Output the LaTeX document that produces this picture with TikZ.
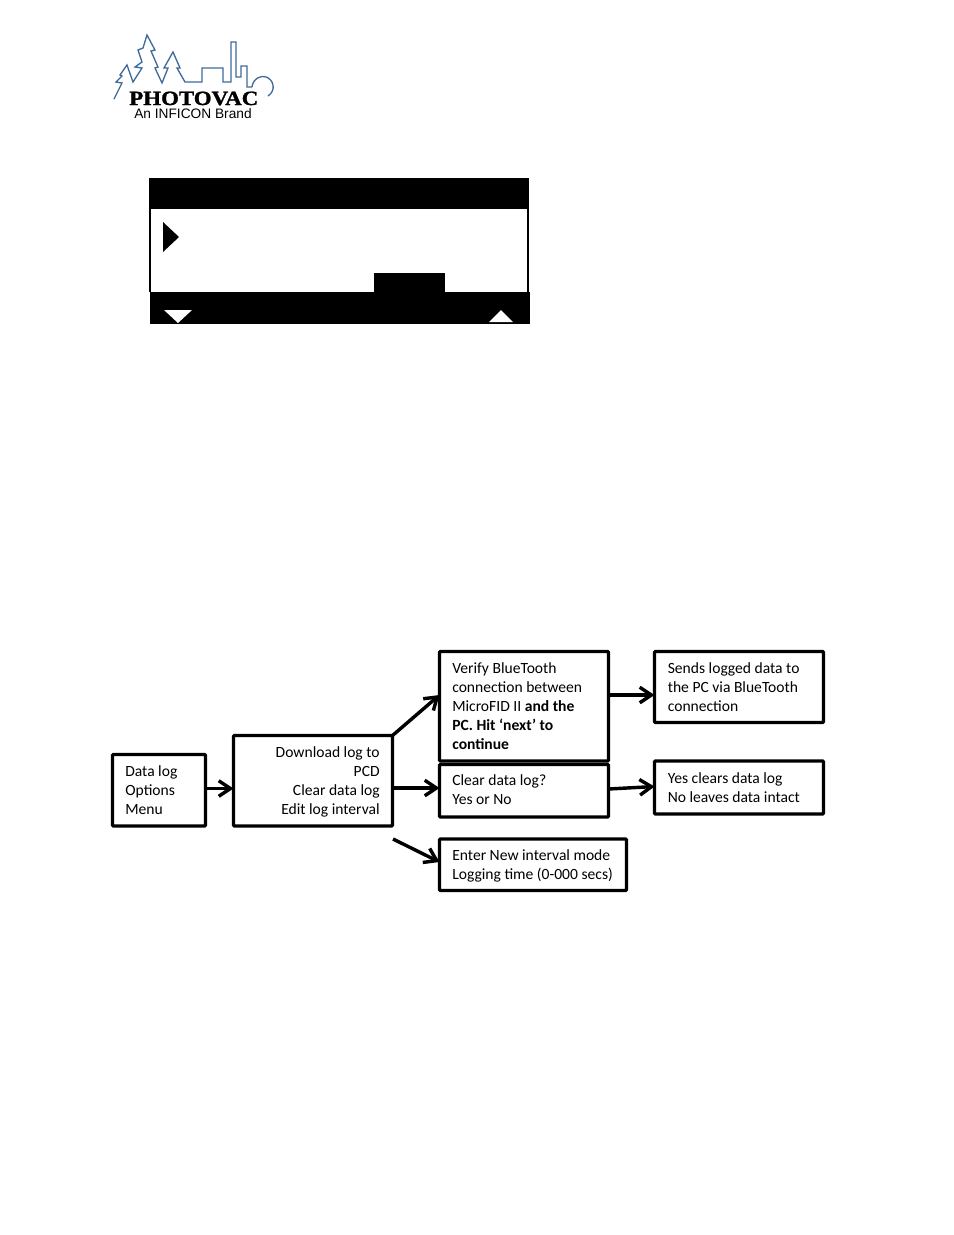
\documentclass[tikz,border=0pt]{standalone}
\usepackage{graphicx}
\usepackage{fontspec}
\setmainfont{Carlito}
\newfontfamily\logoserif[FakeBold=1.2]{Liberation Serif}
\newfontfamily\logosans{Liberation Sans}
\definecolor{logoblue}{HTML}{3F6A9C}
\usetikzlibrary{arrows.meta}
\tikzset{
  flowbox/.style={draw=black,line width=2.1pt,rounded corners=0.6pt,inner sep=0pt,outer sep=0pt,anchor=north west},
  boxtext/.style={font=\fontsize{10}{12.2}\selectfont,anchor=north west,inner sep=0pt,align=left},
  flowarrow/.style={draw=black,line width=2.2pt,-{Straight Barb[length=7.5pt,width=10pt,line width=2.2pt]}},
  logoline/.style={draw=logoblue,line width=0.85pt,line join=miter},
}
\begin{document}
\begin{tikzpicture}[x=0.6415pt,y=-0.6415pt]
\useasboundingbox (0,0) rectangle (954,1235);
% logo
\draw[logoline] (114,99) -- (122,83) -- (116,82) -- (122,76) -- (120,75) -- (127,65) -- (133,82) -- (142,68) -- (135,67) -- (142,62) -- (138,50) -- (143,48) -- (147,35) -- (155,50) -- (151,51) -- (158,67) -- (155,68) -- (162,83) -- (168,68) -- (164,68) -- (173,52) -- (180,68) -- (177,68) -- (185,82) -- (202,82) -- (202,68) -- (223,68) -- (223,82) -- (231,82) -- (231,42) -- (236,42) -- (236,77) -- (241,77) -- (241,66) -- (247,66) -- (247,87) -- (252,87);
\draw[logoline] (252,87) .. controls (253,78) and (262,75) .. (266,77) .. controls (273,79) and (277,90) .. (268,96);
\node[font=\logoserif\bfseries\fontsize{13}{13}\selectfont,anchor=base west,inner sep=0pt] (logoname) at (129,105) {\scalebox{1.13}[1]{PHOTOVAC}};
\node[font=\logosans\fontsize{8.8}{8.8}\selectfont,anchor=base west,inner sep=0pt] (logosub) at (134,118) {An INFICON Brand};
% screen
\fill[black] (149,178) rectangle (529,209);
\draw[black,line width=0.8pt] (150,209) -- (150,292) (528,209) -- (528,292);
\fill[black] (150,292) rectangle (530,324);
\fill[black] (374,273) rectangle (445,293);
\fill[black] (163,222) -- (179,237) -- (163,252) -- cycle;
\fill[white] (164,310) -- (192,310) -- (178,323) -- cycle;
\fill[white] (489,322) -- (513,322) -- (501,310) -- cycle;
% boxes
\node[flowbox,minimum width=93*0.6415pt,minimum height=71.5*0.6415pt] (menu) at (112.5,754.5) {};
\node[flowbox,minimum width=159*0.6415pt,minimum height=90.5*0.6415pt] (opts) at (233.5,735.5) {};
\node[flowbox,minimum width=169*0.6415pt,minimum height=109.5*0.6415pt] (verify) at (439.5,651.5) {};
\node[flowbox,minimum width=169*0.6415pt,minimum height=52.5*0.6415pt] (clear) at (439.5,764.5) {};
\node[flowbox,minimum width=187*0.6415pt,minimum height=51.5*0.6415pt] (enter) at (439.5,839) {};
\node[flowbox,minimum width=169*0.6415pt,minimum height=71*0.6415pt] (sends) at (654.5,651.5) {};
\node[flowbox,minimum width=169*0.6415pt,minimum height=53*0.6415pt] (yes) at (654.5,761) {};
% text
\node[boxtext] (t1) at (125,765) {Data log\\Options\\Menu};
\node[boxtext,anchor=north east,align=right] (t2) at (380,746) {Download log to\\PCD\\Clear data log\\Edit log interval};
\node[boxtext] (t3) at (452,662) {Verify BlueTooth\\connection between\\MicroFID II \textbf{and the}\\\textbf{PC. Hit ‘next’ to}\\\textbf{continue}};
\node[boxtext] (t4) at (452,774) {Clear data log?\\Yes or No};
\node[boxtext] (t5) at (452,849) {Enter New interval mode\\Logging time (0-000 secs)};
\node[boxtext] (t6) at (667.5,662) {Sends logged data to\\the PC via BlueTooth\\connection};
\node[boxtext] (t7) at (667.5,772) {Yes clears data log\\No leaves data intact};
% connectors
\coordinate (freestart) at (393,839);
\draw[flowarrow] (menu.east |- 0,788.5) -- (opts.west |- 0,788.5);
\draw[flowarrow] (opts.north east) -- (verify.west |- 0,695);
\draw[flowarrow] (opts.east |- 0,788) -- (clear.west |- 0,788);
\draw[flowarrow] (freestart) -- (enter.west |- 0,862);
\draw[flowarrow] (verify.east |- 0,695) -- (sends.west |- 0,695);
\draw[flowarrow] (clear.east |- 0,789) -- (yes.west |- 0,786.5);
\end{tikzpicture}
\end{document}
